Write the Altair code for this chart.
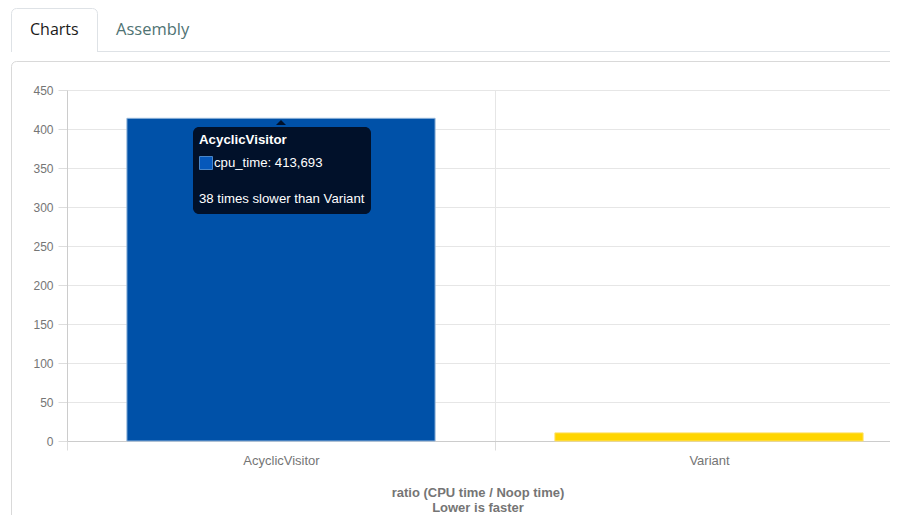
import altair as alt
import pandas as pd

categories = ["AcyclicVisitor", "Variant"]
ratios = [413.693, 10.4]
bar_colors = ["#0051A8", "#FFD500"]
bar_edges = ["#8fb3da", "#FFE066"]
y_ticks = [0, 50, 100, 150, 200, 250, 300, 350, 400, 450]
tabs = ["Charts", "Assembly"]
tooltip_title = "AcyclicVisitor"
tooltip_value = "cpu_time: 413,693"
tooltip_note = "38 times slower than Variant"
axis_title = ["ratio (CPU time / Noop time)", "Lower is faster"]

OX, OY = 67, 90
PW, PH = 823, 351
FULL_W = 856
FONT = "Liberation Sans"
GRAY = "#757575"
one = alt.Data(values=[{"a": 1}])


def X(v):
    return alt.value(v - OX)


def Y(v):
    return alt.value(v - OY)


def rect(x0, y0, x1, y1, **kw):
    return alt.Chart(one).mark_rect(**kw).encode(x=X(x0), x2=X(x1), y=Y(y0), y2=Y(y1))


def rule(x0, y0, x1, y1, color):
    return alt.Chart(one).mark_rule(color=color, strokeWidth=1).encode(
        x=X(x0), x2=X(x1), y=Y(y0), y2=Y(y1))


def label(s, x, y, **kw):
    return alt.Chart(one).mark_text(text=s, align="left", baseline="middle", **kw).encode(x=X(x), y=Y(y))


df = pd.DataFrame({"name": categories, "ratio": ratios, "fill": bar_colors, "edge": bar_edges})

bars = alt.Chart(df).mark_bar(strokeWidth=1, width=alt.RelativeBandSize(band=0.72)).encode(
    x=alt.X("name:N", sort=categories,
            scale=alt.Scale(paddingInner=0, paddingOuter=0, range=[0, FULL_W]),
            axis=alt.Axis(title=axis_title, labelAngle=0, labelFont=FONT, labelFontSize=13,
                          labelColor=GRAY, labelPadding=4, tickBand="extent", tickSize=9,
                          tickColor="#dddddd", domainColor="#cccccc", grid=True, gridColor="#e6e6e6",
                          titleFont=FONT, titleFontSize=13, titleFontWeight="bold",
                          titleColor=GRAY, titleX=410.5, titleY=51, titleLineHeight=15,
                          titleBaseline="middle", titleAlign="center")),
    y=alt.Y("ratio:Q", scale=alt.Scale(domain=[0, 450], nice=False),
            axis=alt.Axis(title=None, values=y_ticks, labelFont=FONT, labelFontSize=12, labelColor=GRAY,
                          labelPadding=5, tickSize=9, tickColor="#dddddd", domainColor="#cccccc",
                          grid=True, gridColor="#e6e6e6")),
    fill=alt.Fill("fill:N", scale=None),
    stroke=alt.Stroke("edge:N", scale=None),
)

chrome = [
    rect(11.5, 61.5, 1000, 620, fill="transparent", stroke="#d9d9d9", strokeWidth=1, cornerRadius=5),
    rect(11.5, 8.5, 97.5, 56, fill="white", stroke="#dee2e6", strokeWidth=1,
         cornerRadiusTopLeft=5, cornerRadiusTopRight=5),
    rect(10, 52, 99, 58, fill="white"),
    rule(97.5, 51.5, 1000, 51.5, "#dee2e6"),
    label(tabs[0], 30, 30, font="Open Sans", fontSize=16, color="#1a1a1a"),
    label(tabs[1], 116, 30, font="Open Sans", fontSize=16.5, color="#4f7373"),
]

tooltip = [
    rect(193, 127, 371, 214, fill="#01112A", cornerRadius=6),
    alt.Chart(one).mark_point(shape="M -1 1 L 0 0 L 1 1 Z", filled=True, fill="#01112A", opacity=1,
                              size=100, strokeWidth=0).encode(x=X(281), y=Y(120)),
    label(tooltip_title, 199, 140, font=FONT, fontSize=13.3, fontWeight="bold", color="white"),
    rect(199.5, 156.5, 212.5, 169.5, fill="#0658BA", stroke="#4a86c8", strokeWidth=1),
    label(tooltip_value, 214, 163, font=FONT, fontSize=13.2, color="white"),
    label(tooltip_note, 199, 199, font=FONT, fontSize=13.2, color="white"),
]

chart = alt.layer(*chrome, bars, *tooltip).properties(
    width=PW, height=PH,
    padding={"left": OX - 8, "top": OY - 8, "right": 0, "bottom": 74},
    autosize=alt.AutoSizeParams(type="none"),
).configure_view(stroke=None)

chart.save("out.html", embed_options={"renderer": "svg", "actions": False})
